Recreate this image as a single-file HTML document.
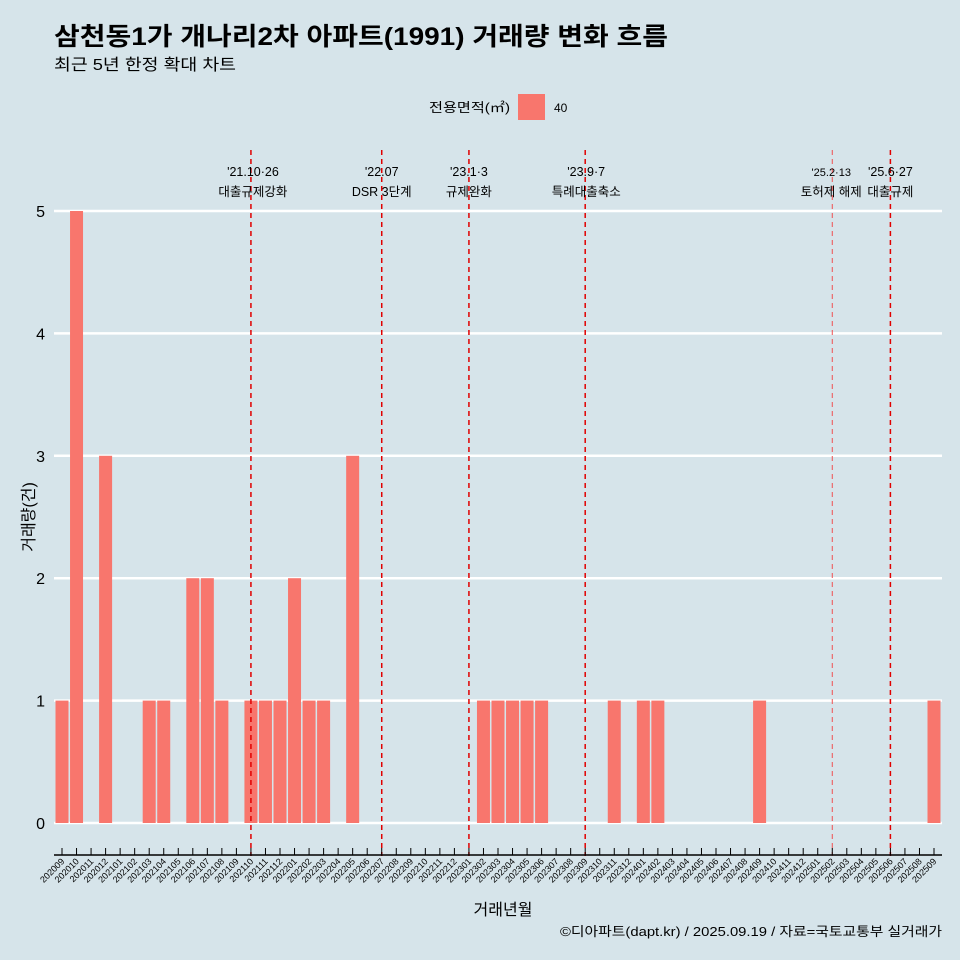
<!DOCTYPE html>
<html><head><meta charset="utf-8">
<style>
body{margin:0;background:#d6e4ea;}
svg{display:block;font-family:"Liberation Sans","Noto Sans CJK KR",sans-serif;}
</style></head>
<body>
<svg id="chart" width="960" height="960" xmlns="http://www.w3.org/2000/svg">
<rect width="960" height="960" fill="#d6e4ea"/>
<text x="54" y="45" font-size="25" font-weight="bold" fill="#000" textLength="614" lengthAdjust="spacingAndGlyphs">삼천동1가 개나리2차 아파트(1991) 거래량 변화 흐름</text>
<text x="54" y="70" font-size="16" fill="#000" textLength="182" lengthAdjust="spacingAndGlyphs">최근 5년 한정 확대 차트</text>
<text x="429" y="112" font-size="13" fill="#000" textLength="81" lengthAdjust="spacingAndGlyphs">전용면적(㎡)</text>
<rect x="518" y="94" width="27" height="26" fill="#f8766d"/>
<text x="554" y="112" font-size="12" fill="#000">40</text>
<g id="grid"></g><g id="bars"></g><g id="events"></g><g id="xaxis"></g><g id="yaxis"></g>
<text x="503" y="915" font-size="16" text-anchor="middle" fill="#000">거래년월</text>
<text transform="translate(34,517) rotate(-90)" font-size="16" text-anchor="middle" fill="#000">거래량(건)</text>
<text x="560" y="936" font-size="13" fill="#000" textLength="382" lengthAdjust="spacingAndGlyphs">©디아파트(dapt.kr) / 2025.09.19 / 자료=국토교통부 실거래가</text>
</svg>
<script>
const months=[];
for(let y=2020,m=9;!(y===2025&&m===10);){months.push(''+y+(m<10?'0':'')+m);m++;if(m>12){m=1;y++;}}
const counts=[1,5,0,3,0,0,1,1,0,2,2,1,0,1,1,1,2,1,1,0,3,0,0,0,0,0,0,0,0,1,1,1,1,1,0,0,0,0,1,0,1,1,0,0,0,0,0,0,1,0,0,0,0,0,0,0,0,0,0,0,1];
const yTicks=[0,1,2,3,4,5];
const eventMonths=['202110','202207','202301','202309','202502','202506'];
const eventDates=["'21.10·26","'22.07","'23.1·3","'23.9·7","'25.2·13","'25.6·27"];
const eventLabels=["대출규제강화","DSR 3단계","규제완화","특례대출축소","토허제 해제","대출규제"];
const NS='http://www.w3.org/2000/svg';
const x0=62,dx=(934-62)/60,y0=823,dy=122.4;
const X=i=>x0+i*dx, Y=v=>y0-v*dy;
function mk(t,a,p){const e=document.createElementNS(NS,t);for(const k in a)e.setAttribute(k,a[k]);document.getElementById(p).appendChild(e);return e;}
yTicks.forEach(v=>{
 const l=mk('line',{x1:54,x2:942,y1:Y(v),y2:Y(v),stroke:'#fff','stroke-width':2.5},'grid');
 
 
 const t=mk('text',{x:45,y:Y(v)+6,'font-size':16,'text-anchor':'end',fill:'#000'},'yaxis');t.textContent=v;
 
 
});
counts.forEach((c,i)=>{
 if(c<=0)return;
 const r=mk('rect',{x:X(i)-6.5,y:Y(c),width:13,height:c*dy,fill:'#f8766d'},'bars');
 
 
});
const ax=mk('line',{x1:54,x2:942,y1:855,y2:855,stroke:'#000','stroke-width':1.5},'xaxis');


months.forEach((m,i)=>{
 const tk=mk('line',{x1:X(i),x2:X(i),y1:848,y2:855,stroke:'#000','stroke-width':1},'xaxis');
 
 
 const t=mk('text',{x:X(i)+3,y:862,'font-size':9,'text-anchor':'end',fill:'#000',transform:`rotate(-45 ${X(i)+3} 862)`},'xaxis');
 t.textContent=m;
 
 
});
eventMonths.forEach((m,k)=>{
 const i=months.indexOf(m);const thin=(k===4);
 const l=mk('line',{x1:X(i),x2:X(i),y1:150,y2:856,stroke:thin?'#f05050':'#e00000','stroke-width':thin?1:1.5,'stroke-dasharray':'5,4'},'events');
 
 
 const cx=k===4?X(i)-1:X(i)+(k===0?2:k===3?1:0);
 const d=mk('text',{x:cx,y:176,'font-size':k===4?11:12.5,'text-anchor':'middle',fill:'#000'},'events');d.textContent=eventDates[k];
 
 
 const lb=mk('text',{x:cx,y:196,'font-size':12.5,'text-anchor':'middle',fill:'#000'},'events');lb.textContent=eventLabels[k];
 
 
});
</script>
</body></html>
